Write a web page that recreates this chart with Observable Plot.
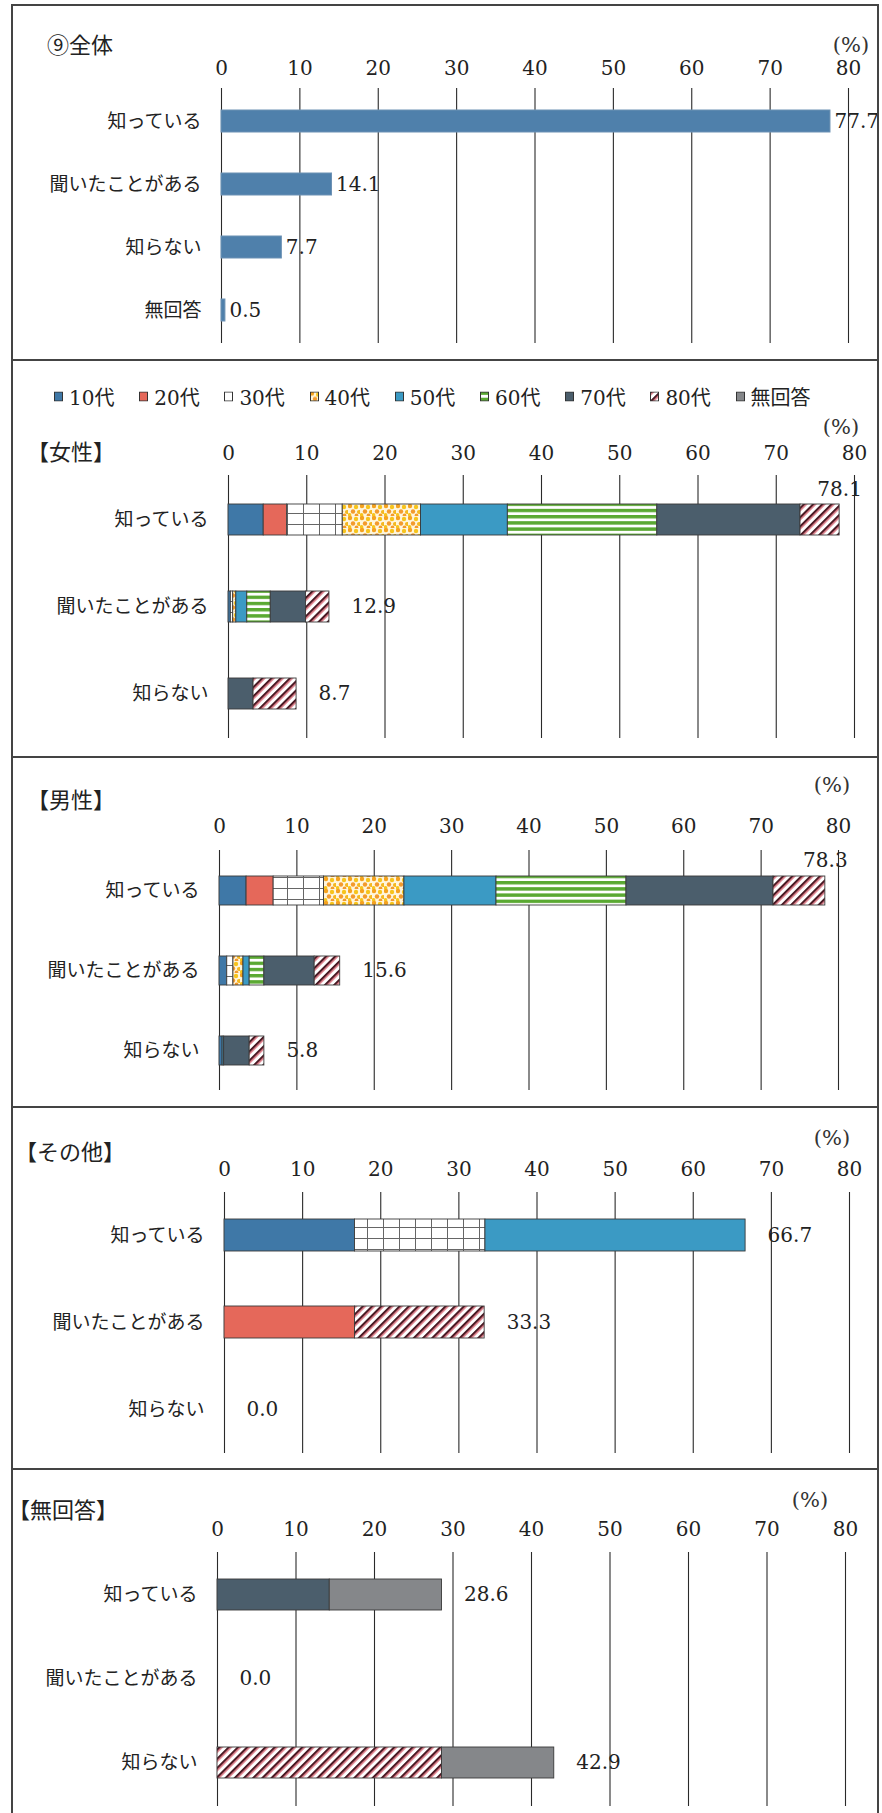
<!DOCTYPE html>
<html><head><meta charset="utf-8">
<script src="https://cdn.jsdelivr.net/npm/d3@7"></script>
<script src="https://cdn.jsdelivr.net/npm/@observablehq/plot@0.6"></script>
<style>
body{margin:0;background:#fff;}
#page{position:relative;width:882px;height:1813px;overflow:hidden;background:#fff;color:#222;}
.sec{position:absolute;left:0;width:882px;}
.sec svg{display:block;position:absolute;left:0;top:0;}
.ttl{position:absolute;font-family:"Noto Sans CJK JP";font-size:22px;line-height:24px;transform:translateY(-50%);white-space:nowrap;color:#222;}
.pct{position:absolute;font-family:"DejaVu Serif";font-size:21px;line-height:24px;transform:translate(-50%,-50%);color:#333;}
.ln{position:absolute;background:#444;}
.legend{position:absolute;left:0;top:0;font-family:"DejaVu Serif","Noto Sans CJK JP";font-size:20px;color:#222;}
.li{position:absolute;display:flex;align-items:center;white-space:nowrap;transform:translateY(-50%);}
.li svg{position:static;margin-right:6px;}
</style></head>
<body>
<div id="page">
<svg width="0" height="0" style="position:absolute">
<defs>
<pattern id="p30" patternUnits="userSpaceOnUse" width="16" height="11">
  <rect width="16" height="11" fill="#fff"/>
  <path d="M15.5 0V11M0 10.5H16" stroke="#666" stroke-width="1" fill="none"/>
</pattern>
<pattern id="p40" patternUnits="userSpaceOnUse" width="12" height="12">
  <rect width="12" height="12" fill="#fff6dc"/>
  <circle cx="2" cy="2" r="2.2" fill="#f5a21f"/>
  <circle cx="8" cy="3" r="2.2" fill="#f7c41c"/>
  <circle cx="5" cy="7.5" r="2.2" fill="#f39a2c"/>
  <circle cx="11" cy="8" r="2.1" fill="#f5b820"/>
  <circle cx="1.5" cy="11" r="1.9" fill="#f7c41c"/>
  <circle cx="8.5" cy="11.5" r="1.9" fill="#f39a2c"/>
</pattern>
<pattern id="p60" patternUnits="userSpaceOnUse" width="6" height="6.2">
  <rect width="6" height="6.2" fill="#fff"/>
  <rect width="6" height="3.4" fill="#5aa932"/>
</pattern>
<pattern id="p80" patternUnits="userSpaceOnUse" width="6.5" height="6.5" patternTransform="rotate(45)">
  <rect width="6.5" height="6.5" fill="#fff"/>
  <rect width="2.2" height="6.5" fill="#4a1a24"/>
  <rect x="2.2" width="1.1" height="6.5" fill="#d24a5a"/>
</pattern>
</defs>
</svg>
</div>
<script>
// ---------- data ----------
const ticks = [0, 10, 20, 30, 40, 50, 60, 70, 80];
const ages = ["10代", "20代", "30代", "40代", "50代", "60代", "70代", "80代", "無回答"];
const ageFills = ["#3f78a7", "#e5685a", "url(#p30)", "url(#p40)", "#3b9ac4", "url(#p60)", "#4b5e6c", "url(#p80)", "#85878a"];
const answers = ["知っている", "聞いたことがある", "知らない"];

const overallCats = ["知っている", "聞いたことがある", "知らない", "無回答"];
const overallValues = [77.7, 14.1, 7.7, 0.5];

// segments per answer, in age order
const femaleKnow  = [4.5, 3.0, 7.1, 10.0, 11.1, 19.1, 18.3, 5.0, 0];
const femaleHeard = [0.3, 0, 0.3, 0.4, 1.4, 3.0, 4.5, 3.0, 0];
const femaleNot   = [0, 0, 0, 0, 0, 0, 3.2, 5.5, 0];
const femaleTotals = [78.1, 12.9, 8.7];

const maleKnow  = [3.5, 3.5, 6.5, 10.4, 11.9, 16.8, 19.0, 6.7, 0];
const maleHeard = [1.0, 0, 0.8, 1.3, 0.8, 1.9, 6.5, 3.3, 0];
const maleNot   = [0.4, 0, 0, 0, 0.2, 0, 3.3, 1.9, 0];
const maleTotals = [78.3, 15.6, 5.8];

const otherKnow  = [16.7, 0, 16.7, 0, 33.3, 0, 0, 0, 0];
const otherHeard = [0, 16.7, 0, 0, 0, 0, 0, 16.6, 0];
const otherNot   = [0, 0, 0, 0, 0, 0, 0, 0, 0];
const otherTotals = [66.7, 33.3, 0.0];

const noansKnow  = [0, 0, 0, 0, 0, 0, 14.3, 0, 14.3];
const noansHeard = [0, 0, 0, 0, 0, 0, 0, 0, 0];
const noansNot   = [0, 0, 0, 0, 0, 0, 0, 28.6, 14.3];
const noansTotals = [28.6, 0.0, 42.9];

// ---------- layout ----------
const NUMFONT = "'DejaVu Serif', 'Noto Sans CJK JP', serif";
const JPFONT = "'Noto Sans CJK JP', sans-serif";
const page = document.getElementById("page");

function el(tag, cls, css, txt) {
  const e = document.createElement(tag);
  if (cls) e.className = cls;
  Object.assign(e.style, css || {});
  if (txt != null) e.textContent = txt;
  return e;
}

const sections = [
  {top: 5, height: 355, mT: 83, mB: 17, mL: 221, mR: 34, tickPad: 14, pad: 0.655, title: "⑨全体", tx: 47, ty: 38, px: 851, py: 40},
  {top: 360, height: 397, mT: 115, mB: 19, mL: 228, mR: 28, tickPad: 16, pad: 0.646, title: "【女性】", tx: 27, ty: 90, px: 841, py: 67},
  {top: 757, height: 350, mT: 93, mB: 17, mL: 219, mR: 44, tickPad: 18, pad: 0.64, title: "【男性】", tx: 27, ty: 41, px: 832, py: 28},
  {top: 1107, height: 362, mT: 85, mB: 16, mL: 224, mR: 33, tickPad: 17, pad: 0.63, title: "【その他】", tx: 15, ty: 43, px: 832, py: 31},
  {top: 1469, height: 344, mT: 83, mB: 7, mL: 217, mR: 37, tickPad: 17, pad: 0.63, title: "【無回答】", tx: 8, ty: 39, px: 810, py: 31}
];

function baseOpts(cfg, domain) {
  return {
    width: 882, height: cfg.height,
    marginTop: cfg.mT, marginBottom: cfg.mB, marginLeft: cfg.mL, marginRight: cfg.mR,
    style: {fontFamily: NUMFONT, fontSize: "20px", color: "#222", background: "transparent", overflow: "visible"},
    x: {domain: [0, 80], label: null},
    y: {domain, paddingInner: cfg.pad, paddingOuter: cfg.pad / 2, label: null}
  };
}
function commonMarks(cfg) {
  return [
    Plot.gridX(ticks, {stroke: "#2a2a2a", strokeOpacity: 1, strokeWidth: 1.1}),
    Plot.axisX(ticks, {anchor: "top", tickSize: 0, tickPadding: cfg.tickPad, fontSize: 20}),
    Plot.axisY({tickSize: 0, tickPadding: 20, fontSize: 19, fontFamily: JPFONT})
  ];
}

function overallPlot(cfg) {
  const data = overallCats.map((c, i) => ({cat: c, value: overallValues[i]}));
  return Plot.plot({
    ...baseOpts(cfg, overallCats),
    marks: [
      ...commonMarks(cfg),
      Plot.barX(data, {x: "value", y: "cat", fill: "#4f80ab", stroke: "#6d91b4", strokeWidth: 1}),
      Plot.text(data, {x: "value", y: "cat", text: d => d.value.toFixed(1), textAnchor: "start", dx: 4, fontSize: 20})
    ]
  });
}

function stackedPlot(cfg, rows, totals) {
  const data = [];
  answers.forEach((a, i) => ages.forEach((g, j) => {
    const v = rows[i][j];
    if (v > 0) data.push({answer: a, age: g, value: v});
  }));
  const tot = answers.map((a, i) => ({answer: a, total: totals[i]}));
  return Plot.plot({
    ...baseOpts(cfg, answers),
    color: {type: "ordinal", domain: ages, range: ageFills},
    marks: [
      ...commonMarks(cfg),
      Plot.barX(data, {x: "value", y: "answer", fill: "age", stroke: "#3a3a3a", strokeWidth: 0.9}),
      Plot.text(tot.filter(d => d.total < 75), {x: "total", y: "answer", text: d => d.total.toFixed(1), textAnchor: "start", dx: 22, fontSize: 20}),
      Plot.text(tot.filter(d => d.total >= 75), {x: "total", y: "answer", text: d => d.total.toFixed(1), textAnchor: "middle", dy: -30, fontSize: 20})
    ]
  });
}

const charts = [
  overallPlot(sections[0]),
  stackedPlot(sections[1], [femaleKnow, femaleHeard, femaleNot], femaleTotals),
  stackedPlot(sections[2], [maleKnow, maleHeard, maleNot], maleTotals),
  stackedPlot(sections[3], [otherKnow, otherHeard, otherNot], otherTotals),
  stackedPlot(sections[4], [noansKnow, noansHeard, noansNot], noansTotals)
];

sections.forEach((cfg, i) => {
  const s = el("div", "sec", {top: cfg.top + "px", height: cfg.height + "px"});
  s.appendChild(charts[i]);
  s.appendChild(el("div", "ttl", {left: cfg.tx + "px", top: cfg.ty + "px"}, cfg.title));
  s.appendChild(el("div", "pct", {left: cfg.px + "px", top: cfg.py + "px"}, "(%)"));
  page.appendChild(s);
});

// legend in the 女性 section
const lg = el("div", "legend", {top: "360px"});
ages.forEach((g, j) => {
  const item = el("div", "li", {left: (54 + j * 85.2) + "px", top: "36px"});
  const sw = document.createElementNS("http://www.w3.org/2000/svg", "svg");
  sw.setAttribute("width", "9"); sw.setAttribute("height", "10");
  const r = document.createElementNS("http://www.w3.org/2000/svg", "rect");
  r.setAttribute("x", "0.5"); r.setAttribute("y", "0.5"); r.setAttribute("width", "8"); r.setAttribute("height", "9");
  r.setAttribute("fill", ageFills[j]); r.setAttribute("stroke", "#333"); r.setAttribute("stroke-width", "1");
  sw.appendChild(r);
  item.appendChild(sw);
  item.appendChild(el("span", null, {}, g));
  lg.appendChild(item);
});
page.appendChild(lg);

// frame lines
[[11, 4, 2, 1809], [877, 4, 2, 1809], [11, 4, 868, 2], [11, 359, 868, 2], [11, 756, 868, 2], [11, 1106, 868, 2], [11, 1468, 868, 2]]
  .forEach(([x, y, w, h]) => page.appendChild(el("div", "ln", {left: x + "px", top: y + "px", width: w + "px", height: h + "px"})));
</script>
</body></html>
